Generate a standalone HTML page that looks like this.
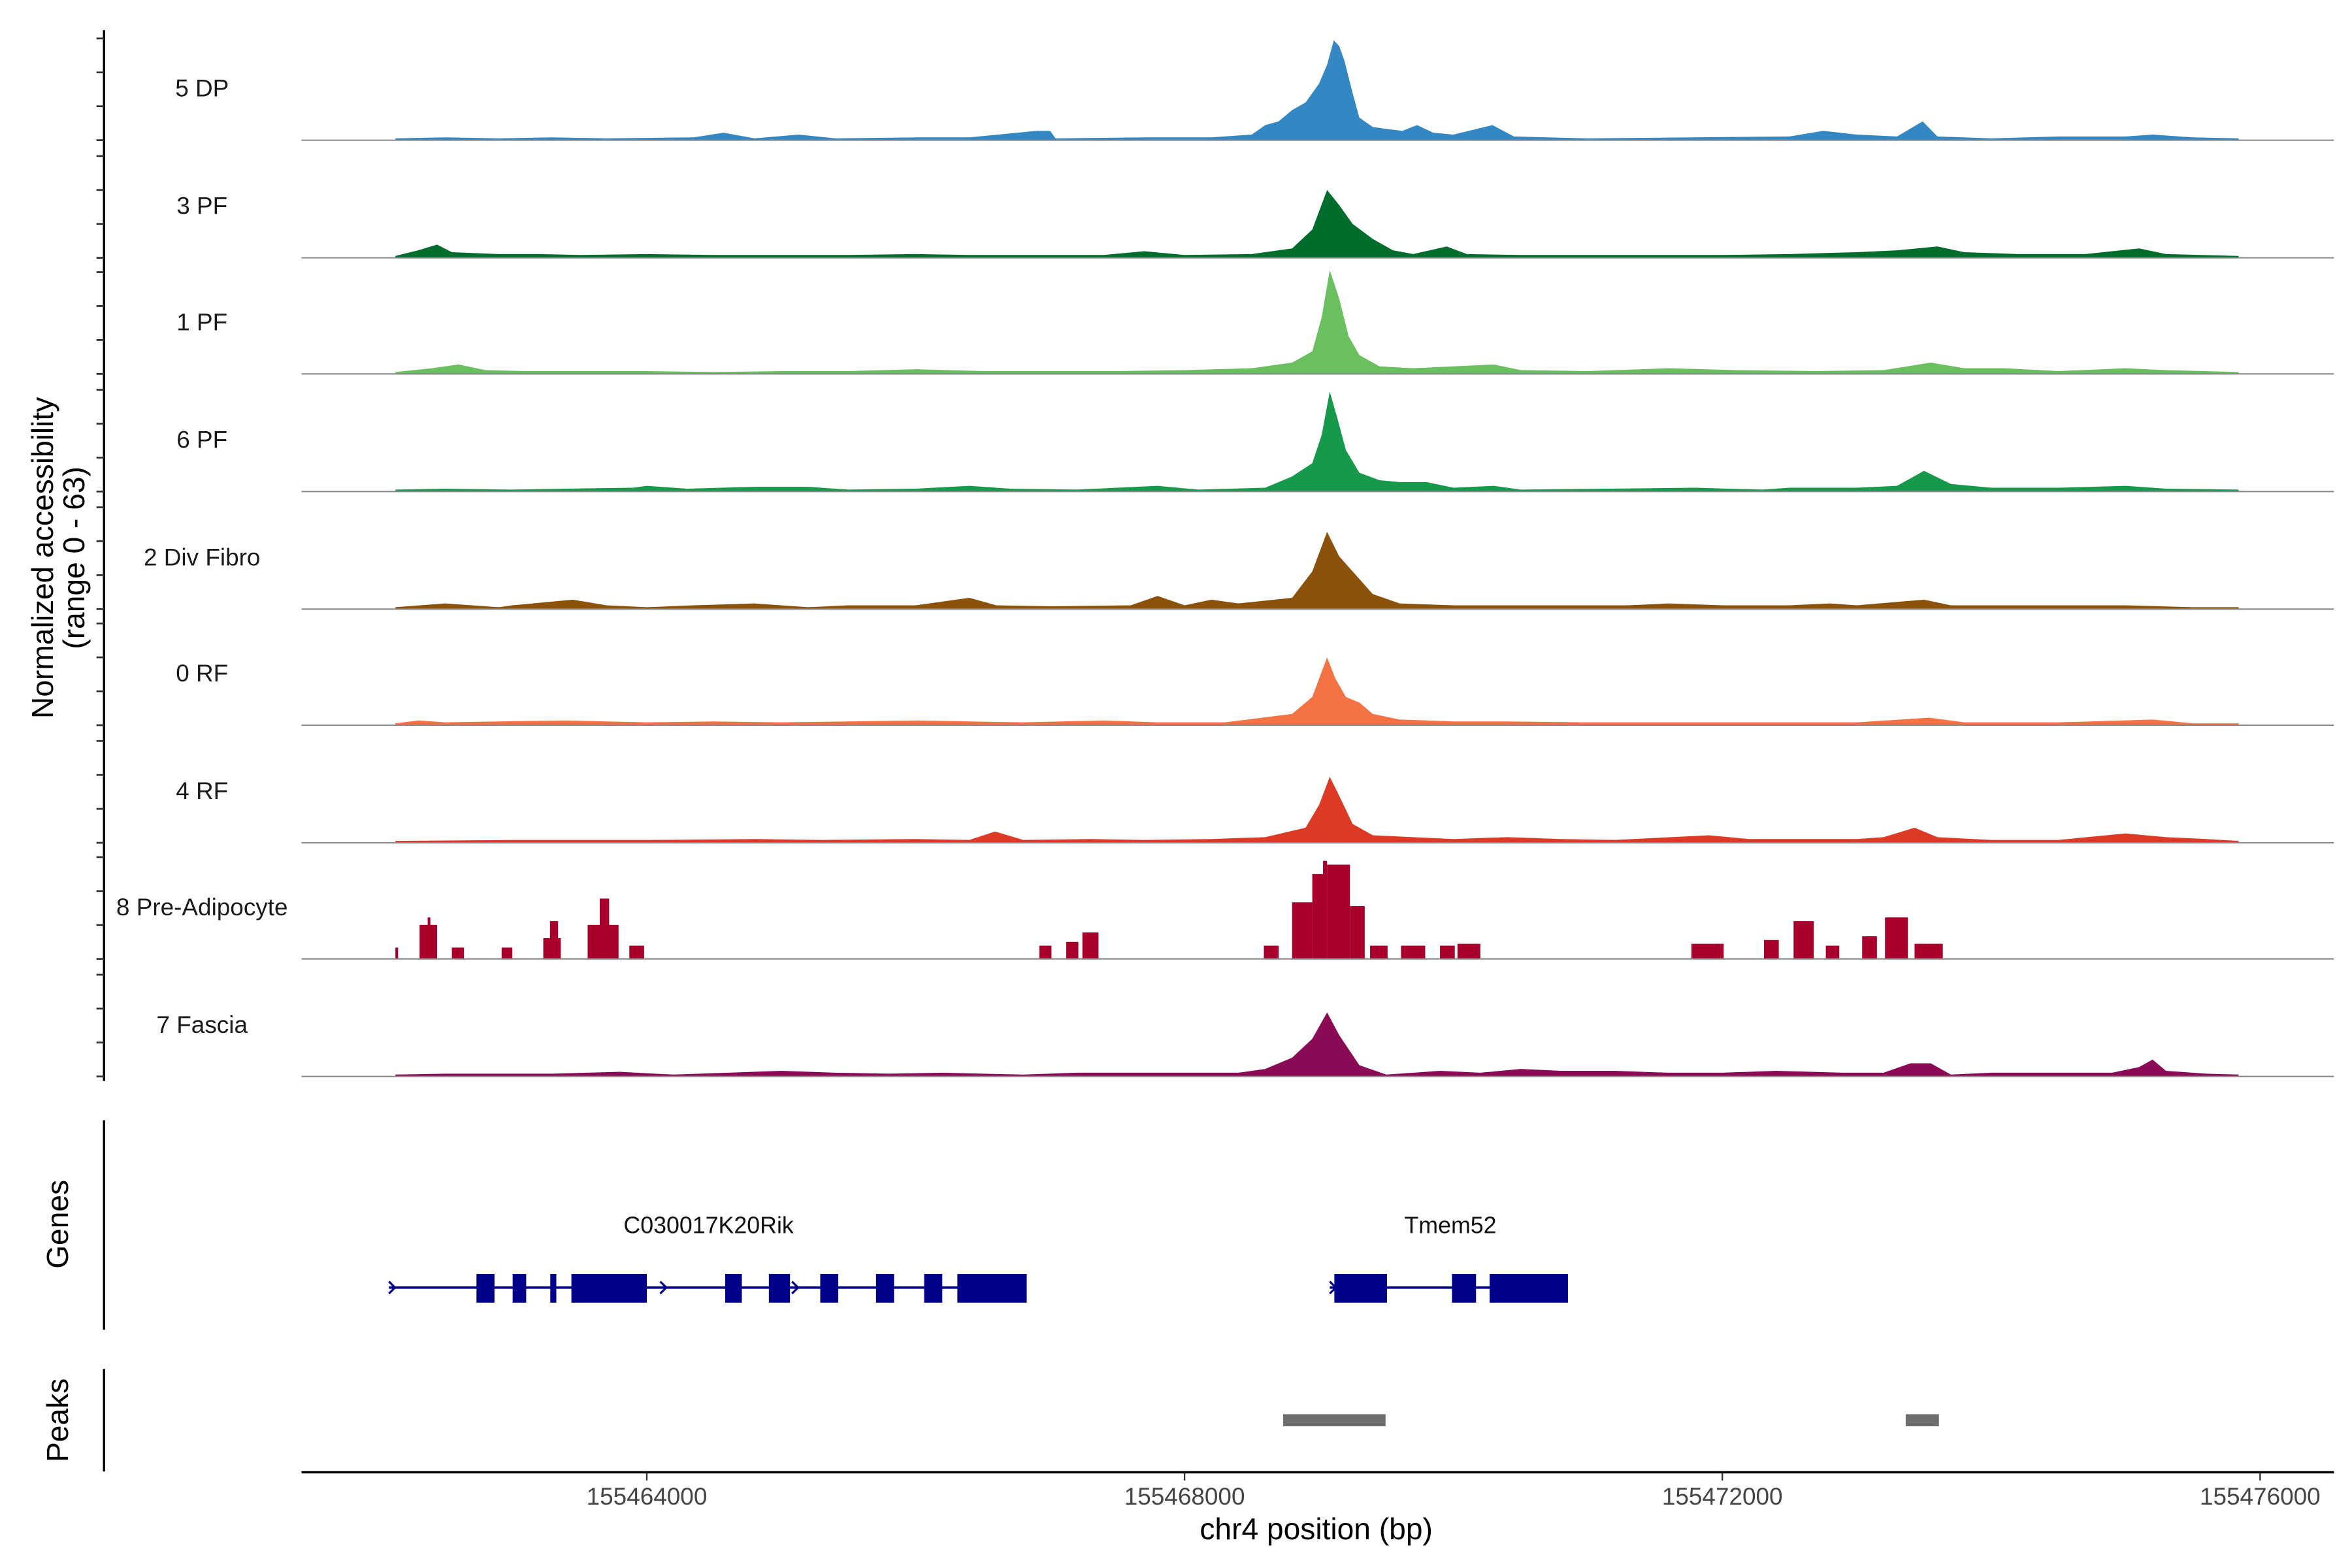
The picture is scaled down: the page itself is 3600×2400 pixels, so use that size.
<!DOCTYPE html>
<html><head><meta charset="utf-8"><style>
html,body{margin:0;padding:0;background:#fff;}
svg{display:block;}
text{font-family:"Liberation Sans",Arial,sans-serif;}
</style></head><body>
<svg id="chart" width="3600" height="2400" viewBox="0 0 1560 1040" xmlns="http://www.w3.org/2000/svg">
<rect x="0" y="0" width="1560" height="1040" fill="#fff"/>
<g id="tracks"></g>
<g id="genes"></g>
<g id="peaks"></g>
<g id="axes"></g>
</svg>
<script>
// ---- data (positions in kb relative to 155460000, values in normalized units) ----
const trackNames = ["5 DP","3 PF","1 PF","6 PF","2 Div Fibro","0 RF","4 RF","8 Pre-Adipocyte","7 Fascia"];
const trackColors = ["#3388c4","#006d2c","#6abf5e","#16994a","#8c510a","#f57245","#dc3a25","#a8002a","#8b0a55"];
const dp5 = [[2.13,1],[2.5,1.5],[2.9,1],[3.3,1.5],[3.7,1],[4.35,1.5],[4.57,4],[4.8,1],[5.13,3],[5.4,1],[6.0,1.5],[6.4,1.5],[6.9,5],[7.0,5],[7.04,1],[7.7,1.5],[8.2,1.5],[8.5,3],[8.6,8],[8.7,10],[8.8,16],[8.9,20],[9.0,30],[9.06,40],[9.11,53],[9.15,50],[9.19,42],[9.25,25],[9.3,12],[9.4,7],[9.5,6],[9.62,5],[9.73,8],[9.85,4],[10.0,3],[10.29,8],[10.45,2],[10.7,1.5],[11.0,1],[12.5,2],[12.75,5],[13.0,3],[13.3,2],[13.49,10],[13.6,2],[14.0,1],[14.5,2],[15.0,2],[15.2,3],[15.5,1.5],[15.84,1]];
const pf3 = [[2.13,1],[2.3,4],[2.44,7],[2.55,3],[2.9,2],[3.2,2],[3.5,1.5],[4.0,2],[4.5,1.5],[5.0,1.5],[5.5,1.5],[6.0,2],[6.4,1.5],[7.0,1.5],[7.4,1.5],[7.7,3.5],[8.0,1.5],[8.5,2],[8.8,5],[8.95,15],[9.06,36],[9.15,28],[9.25,18],[9.4,10],[9.55,4],[9.7,2],[9.95,6],[10.1,2],[10.5,1.5],[11.0,1.5],[11.5,1.5],[12.0,1.5],[12.5,2],[13.0,3],[13.3,4],[13.6,6],[13.8,3],[14.2,2],[14.7,2],[15.1,5],[15.3,2],[15.84,1]];
const pf1 = [[2.13,1],[2.4,3],[2.6,5],[2.8,2],[3.1,1.5],[3.5,1.5],[4.0,1.5],[4.5,1],[5.0,1.5],[5.5,1.5],[6.0,2.5],[6.5,1.5],[7.0,1.5],[7.5,1.5],[8.0,2],[8.5,3],[8.8,6],[8.95,12],[9.02,30],[9.08,55],[9.15,40],[9.22,20],[9.3,10],[9.45,4],[9.7,3],[10.3,5],[10.5,2],[11.0,1.5],[11.6,3],[12.1,2],[12.7,1.5],[13.2,2],[13.55,6],[13.8,3],[14.1,3],[14.5,1.5],[15.0,3],[15.3,2],[15.84,1]];
const pf6 = [[2.13,1],[2.5,1.5],[3.0,1],[3.4,1.5],[3.9,2],[4.0,3],[4.3,1.5],[4.8,2.5],[5.2,2.5],[5.5,1],[6.0,1.5],[6.4,3],[6.7,1.5],[7.2,1],[7.8,3],[8.1,1],[8.6,2],[8.8,8],[8.95,15],[9.02,30],[9.08,53],[9.14,38],[9.2,22],[9.3,10],[9.45,6],[9.6,5],[9.8,5],[10.0,2],[10.3,3],[10.5,1],[11.8,2],[12.3,1],[12.5,2],[13.0,2],[13.3,3],[13.5,11],[13.7,4],[14.0,2],[14.5,2],[15.0,3],[15.3,1.5],[15.84,1]];
const div2 = [[2.13,1],[2.5,3],[2.9,1],[3.0,2],[3.45,5],[3.7,2],[4.0,1],[4.35,2],[4.8,3],[5.2,1],[5.5,2],[6.0,2],[6.4,6],[6.6,2],[7.0,1.5],[7.6,2],[7.8,7],[8.0,2],[8.2,5],[8.4,3],[8.8,6],[8.95,20],[9.06,41],[9.15,28],[9.25,20],[9.4,8],[9.6,3],[10.0,2],[10.5,2],[11.3,2],[11.6,3],[12.0,2],[12.5,2],[12.8,3],[13.0,2],[13.5,5],[13.7,2],[14.0,2],[14.5,2],[15.0,2],[15.5,1],[15.84,1]];
const rf0 = [[2.13,1],[2.3,2.5],[2.5,1.5],[2.9,2],[3.4,2.5],[3.7,2],[4.0,1.5],[4.5,2],[5.0,1.5],[5.5,2],[6.0,2.5],[6.4,2],[6.8,1.5],[7.4,2.5],[7.8,1.5],[8.3,1.5],[8.8,6],[8.95,15],[9.06,36],[9.12,25],[9.2,15],[9.3,12],[9.4,6],[9.6,3],[10.0,2],[10.4,2],[11.0,1.5],[11.5,1.5],[12.0,1.5],[12.5,1.5],[13.0,1.5],[13.54,4],[13.8,1.5],[14.5,1.5],[15.2,3],[15.5,1],[15.84,1]];
const rf4 = [[2.13,1],[3.0,1.5],[3.5,1.5],[4.0,1.5],[4.8,2],[5.3,1.5],[6.0,2],[6.4,1.5],[6.59,6],[6.8,1.5],[7.3,2],[7.7,1.5],[8.2,2],[8.6,3],[8.9,8],[9.0,20],[9.08,35],[9.15,25],[9.25,10],[9.4,4],[9.7,3],[10.0,2],[10.4,3],[10.8,2],[11.2,1.5],[11.9,4],[12.2,2],[12.6,2],[13.0,2],[13.2,3],[13.43,8],[13.6,3],[14.0,1.5],[14.5,1.5],[15.0,5],[15.3,3],[15.6,2],[15.84,1]];
// Pre-adipocyte: blocky segments [start, end, value]
const preAd8 = [[2.13,2.15,6],[2.31,2.44,18],[2.37,2.39,22],[2.55,2.64,6],[2.92,3.00,6],[3.23,3.36,11],[3.28,3.34,20],[3.56,3.79,18],[3.65,3.72,32],[3.87,3.98,7],[6.92,7.01,7],[7.12,7.21,9],[7.24,7.36,14],[8.59,8.70,7],[8.80,8.95,30],[8.95,9.06,45],[9.03,9.06,52],[9.06,9.23,50],[9.23,9.34,28],[9.38,9.51,7],[9.61,9.79,7],[9.90,10.01,7],[10.03,10.20,8],[11.77,12.01,8],[12.31,12.42,10],[12.53,12.68,20],[12.77,12.87,7],[13.04,13.15,12],[13.21,13.38,22],[13.43,13.64,8]];
const fascia7 = [[2.13,1],[2.5,1.5],[2.9,1.5],[3.3,1.5],[3.8,2.5],[4.2,1],[5.0,3],[5.4,2],[5.8,1.5],[6.2,2],[6.8,1],[7.2,2],[7.6,2],[8.0,2],[8.4,2],[8.6,4],[8.8,10],[8.95,20],[9.06,34],[9.15,22],[9.3,6],[9.5,1],[9.9,3],[10.2,2],[10.5,4],[10.8,3],[11.2,3],[11.6,2],[12.0,2],[12.4,3],[12.9,2],[13.2,2],[13.4,7],[13.55,7],[13.7,1],[14.0,2],[14.5,2],[14.9,2],[15.1,5],[15.2,9],[15.3,3],[15.6,1.5],[15.84,1]];
const xTicks = [155464000,155468000,155472000,155476000];
const yTickValues = [0,18,36,54];
const gene1Exons = [[2.733,2.867],[3.002,3.103],[3.282,3.327],[3.439,4.0],[4.583,4.707],[4.908,5.065],[5.290,5.424],[5.705,5.839],[6.063,6.198],[6.310,6.826]];
const gene1Span = [2.082,6.826];
const gene1Arrows = [2.082,4.10,5.08];
const gene2Exons = [[9.114,9.506],[9.989,10.168],[10.269,10.852]];
const gene2Span = [9.080,10.852];
const gene2Arrows = [9.080];
const peakRegions = [[8.733,9.495],[13.364,13.611]];

// ---- scales ----
const NS="http://www.w3.org/2000/svg";
function xScale(bp){return 429+(bp-155464000)/1000*89.17;}
function xk(kb){return xScale(155460000+kb*1000);}
const baselines=[93,171,248,326,404,481,559,636,714];
function yScale(i,v){return baselines[i]-v*1.25;}
function mk(tag,attrs,parent){const e=document.createElementNS(NS,tag);for(const k in attrs)e.setAttribute(k,attrs[k]);parent.appendChild(e);return e;}

const tracksG=document.getElementById('tracks');
const areaData=[dp5,pf3,pf1,pf6,div2,rf0,rf4,null,fascia7];
trackNames.forEach((name,i)=>{
  const g=mk('g',{},tracksG);
  
  
  const data=areaData[i];
  if(data){
    let d='M'+xk(data[0][0]).toFixed(2)+','+baselines[i];
    data.forEach(p=>{d+=' L'+xk(p[0]).toFixed(2)+','+yScale(i,p[1]).toFixed(2);});
    d+=' L'+xk(data[data.length-1][0]).toFixed(2)+','+baselines[i]+' Z';
    const p=mk('path',{d:d,fill:trackColors[i]},g);
    
    
  } else {
    preAd8.forEach(s=>{
      const r=mk('rect',{x:xk(s[0]),y:yScale(i,s[2]),width:Math.max(0.8,xk(s[1])-xk(s[0])),height:s[2]*1.25,fill:trackColors[i]},g);
      
      
    });
  }
  const bl=mk('line',{x1:200,x2:1548,y1:baselines[i],y2:baselines[i],stroke:'#888',"stroke-width":0.9},g);
  
  
  const t=mk('text',{x:134,y:baselines[i]-29,"text-anchor":"middle","font-size":16,fill:'#1a1a1a'},g);
  t.textContent=name;
  
  
});

// genes
const genesG=document.getElementById('genes');
function drawGene(span,exons,arrows,label,lx){
  const g=mk('g',{},genesG);
  
  
  mk('line',{x1:xk(span[0]),x2:xk(span[1]),y1:854,y2:854,stroke:'#00008b',"stroke-width":1.6},g);
  exons.forEach(e=>{
    const r=mk('rect',{x:xk(e[0]),y:845,width:xk(e[1])-xk(e[0]),height:19,fill:'#00008b'},g);
    
    
  });
  arrows.forEach(a=>{
    const x=xk(a);
    mk('path',{d:`M${x},850 L${x+4},854 L${x},858`,fill:'none',stroke:'#00008b',"stroke-width":1.4},g);
  });
  const t=mk('text',{x:lx,y:818,"text-anchor":"middle","font-size":15.5,fill:'#111'},g);
  t.textContent=label;
  
  
}
drawGene(gene1Span,gene1Exons,gene1Arrows,'C030017K20Rik',470);
drawGene(gene2Span,gene2Exons,gene2Arrows,'Tmem52',962);

// peaks
const peaksG=document.getElementById('peaks');
peakRegions.forEach(p=>{
  const r=mk('rect',{x:xk(p[0]),y:938,width:xk(p[1])-xk(p[0]),height:8,fill:'#6e6e6e'},peaksG);
  
  
});

// axes
const axG=document.getElementById('axes');
function axLine(x1,y1,x2,y2,w,name,col){const l=mk('line',{x1,y1,x2,y2,stroke:col||'#000',"stroke-width":w},axG);return l;}
axLine(69,20,69,717,1.5,'y-axis-line');
baselines.forEach((b,i)=>{yTickValues.forEach(v=>{axLine(64,yScale(i,v),69,yScale(i,v),1.2,'y-tick','#333');});});
axLine(69,743,69,882,1.5,'genes-axis-line');
axLine(69,908,69,976,1.5,'peaks-axis-line');
axLine(200,976.5,1548,976.5,1.5,'x-axis-line');
xTicks.forEach(v=>{
  axLine(xScale(v),977,xScale(v),982,1,'x-tick','#333');
  const t=mk('text',{x:xScale(v),y:998,"text-anchor":"middle","font-size":16,fill:'#444'},axG);
  t.textContent=String(v);
  
  
});
function label(txt,x,y,rot,fs,name){
  const t=mk('text',{x,y,"text-anchor":"middle","font-size":fs,fill:'#000'},axG);
  if(rot)t.setAttribute('transform',`rotate(-90 ${x} ${y})`);
  t.textContent=txt;
  
  
  return t;
}
label('chr4 position (bp)',873,1021,false,20,'x-axis-title');
label('Normalized accessibility',35,370,true,20,'y-axis-title');
label('(range 0 - 63)',56,370,true,20,'y-axis-range');
label('Genes',45,812,true,20,'genes-axis-title');
label('Peaks',45,942,true,20,'peaks-axis-title');
</script>
</body></html>
